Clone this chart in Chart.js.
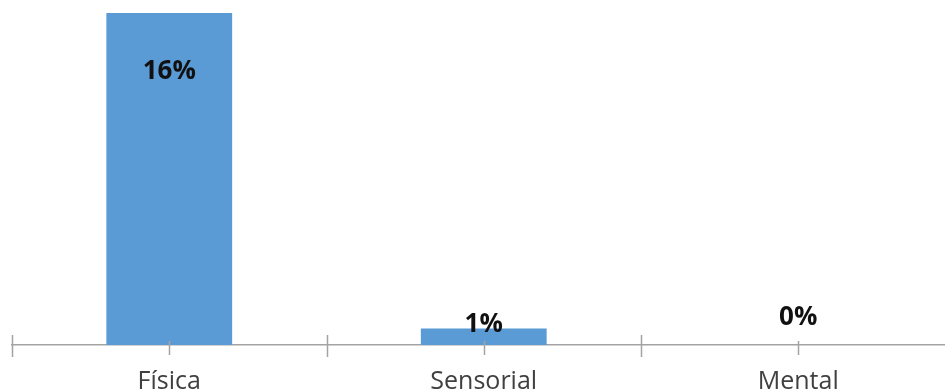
<!DOCTYPE html>
<html>
<head>
<meta charset="utf-8">
<script src="https://cdn.jsdelivr.net/npm/chart.js@4.4.1/dist/chart.umd.min.js"></script>
<style>
  html, body { margin: 0; padding: 0; background: #fff; overflow: hidden; }
  #wrap { width: 958px; height: 392px; }
</style>
</head>
<body>
<div id="wrap"><canvas id="grafico" width="958" height="392"></canvas></div>
<script>
// Dados
const categorias = ['Física', 'Sensorial', 'Mental'];
const valores = [16, 0.8, 0];
const rotulos = ['16%', '1%', '0%'];

const corBarra = '#5b9bd5';
const corEixo = '#a3a3a3';

// Ticks do eixo X (divisões e centros das categorias)
const ticksEixo = {
    id: 'ticksEixo',
    afterDraw(chart) {
        const ctx = chart.ctx;
        const x = chart.scales.x;
        const base = chart.chartArea.bottom;
        const largura = x.width / categorias.length;
        ctx.save();
        ctx.strokeStyle = corEixo;
        ctx.lineWidth = 1.5;
        ctx.beginPath();
        for (let i = 0; i <= categorias.length; i++) {
            const px = Math.round(x.left + i * largura) + 0.5;
            ctx.moveTo(px, base - 10);
            ctx.lineTo(px, base + 12);
        }
        categorias.forEach((c, i) => {
            const px = Math.round(x.getPixelForValue(i)) + 0.5;
            ctx.moveTo(px, base - 4);
            ctx.lineTo(px, base + 10);
        });
        ctx.stroke();
        ctx.restore();
    }
};

// Rótulos de dados
const rotulosDados = {
    id: 'rotulosDados',
    afterDatasetsDraw(chart) {
        const ctx = chart.ctx;
        const meta = chart.getDatasetMeta(0);
        ctx.save();
        ctx.font = 'bold 26px "Open Sans"';
        ctx.fillStyle = '#111';
        ctx.textAlign = 'center';
        ctx.textBaseline = 'middle';
        meta.data.forEach((bar, i) => {
            const altura = bar.base - bar.y;
            let y;
            if (altura > 100) y = bar.y + 59;
            else if (valores[i] > 0) y = bar.y - 4;
            else y = bar.base - 27;
            ctx.fillText(rotulos[i], bar.x, y);
        });
        ctx.restore();
    }
};

new Chart(document.getElementById('grafico'), {
    type: 'bar',
    data: {
        labels: categorias,
        datasets: [{
            data: valores,
            backgroundColor: corBarra,
            barPercentage: 0.8,
            categoryPercentage: 0.5
        }]
    },
    options: {
        responsive: false,
        animation: false,
        devicePixelRatio: 1,
        layout: { padding: { left: 12, right: 2.5, top: 13, bottom: -27 } },
        plugins: { legend: { display: false }, tooltip: { enabled: false } },
        scales: {
            y: { display: false, min: 0, max: 16 },
            x: {
                grid: { display: false, drawTicks: false },
                border: { display: true, color: corEixo, width: 1.5 },
                ticks: {
                    padding: 22,
                    color: '#404040',
                    font: { family: '"Open Sans"', size: 25, lineHeight: 1.2 }
                }
            }
        }
    },
    plugins: [ticksEixo, rotulosDados]
});
</script>
</body>
</html>
